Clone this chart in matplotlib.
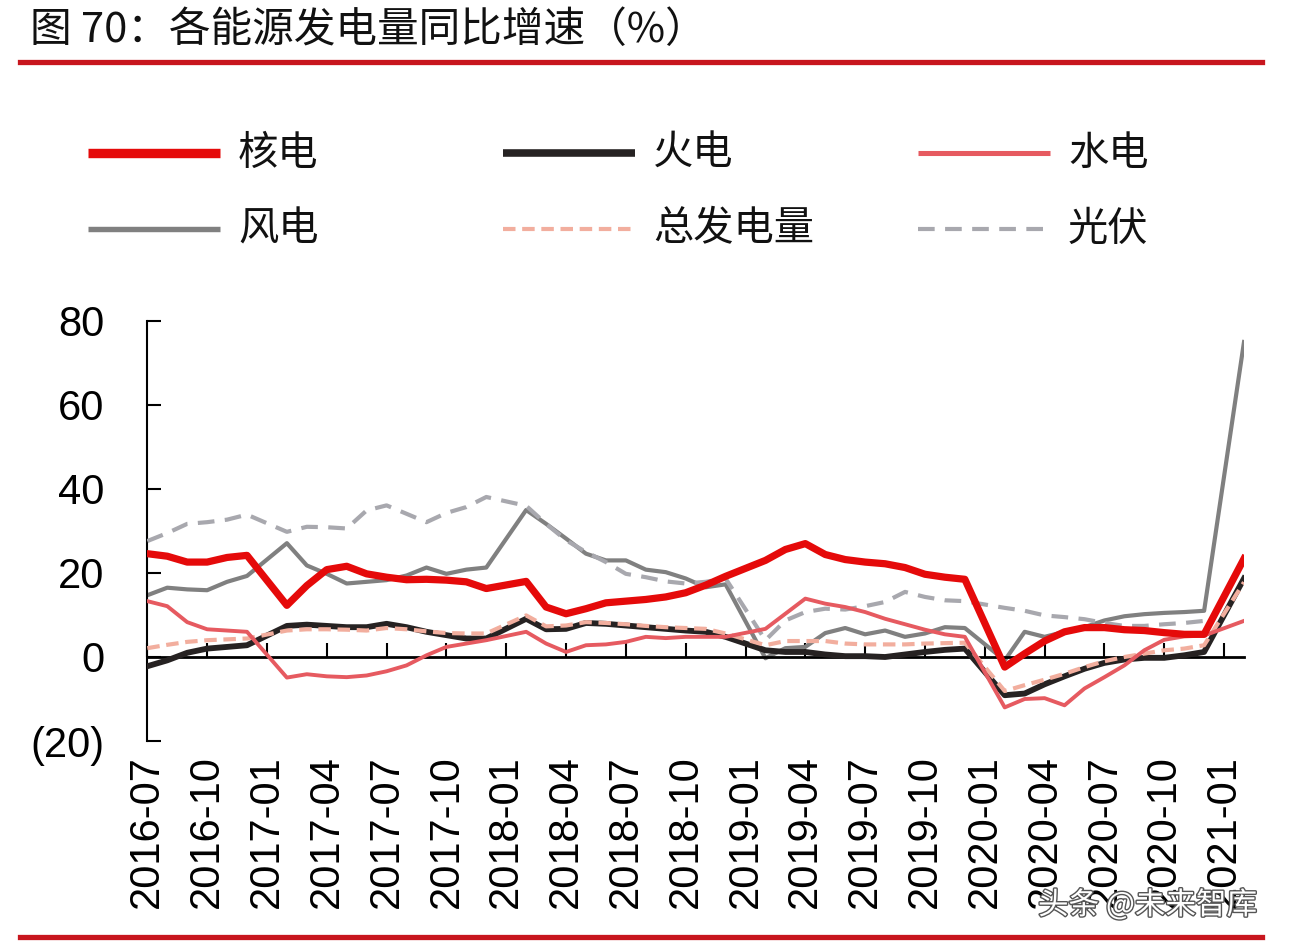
import matplotlib
matplotlib.use("Agg")
import matplotlib.pyplot as plt
import matplotlib.patheffects as pe
from matplotlib.lines import Line2D
import numpy as np

plt.rcParams['font.family'] = ['Liberation Sans', 'Noto Sans CJK SC', 'DejaVu Sans']
CJK = ['Noto Sans CJK SC', 'DejaVu Sans']

# months with data (January is reported together with February, so it is absent)
months = [
    "2016-07", "2016-08", "2016-09", "2016-10", "2016-11", "2016-12",
    "2017-02", "2017-03", "2017-04", "2017-05", "2017-06", "2017-07", "2017-08",
    "2017-09", "2017-10", "2017-11", "2017-12",
    "2018-02", "2018-03", "2018-04", "2018-05", "2018-06", "2018-07", "2018-08",
    "2018-09", "2018-10", "2018-11", "2018-12",
    "2019-02", "2019-03", "2019-04", "2019-05", "2019-06", "2019-07", "2019-08",
    "2019-09", "2019-10", "2019-11", "2019-12",
    "2020-02", "2020-03", "2020-04", "2020-05", "2020-06", "2020-07", "2020-08",
    "2020-09", "2020-10", "2020-11", "2020-12",
    "2021-02",
]

nuclear = [24.6, 24.0, 22.6, 22.6, 23.7, 24.2,
           12.3, 17.0, 20.8, 21.6, 19.8, 19.0, 18.4, 18.5, 18.3, 17.9, 16.3,
           18.0, 11.9, 10.3, 11.5, 12.9, 13.3, 13.7, 14.3, 15.3, 17.1, 19.2,
           23.0, 25.6, 27.0, 24.4, 23.2, 22.6, 22.2, 21.3, 19.7, 19.0, 18.5,
           -2.4, 0.8, 3.8, 6.0, 7.0, 7.0, 6.5, 6.3, 5.8, 5.4, 5.4,
           23.4]
thermal = [-2.2, -0.8, 1.0, 2.0, 2.4, 2.8,
           7.4, 7.7, 7.4, 7.1, 7.1, 7.9, 7.1, 6.0, 5.2, 4.4, 4.4,
           9.1, 6.6, 6.7, 8.1, 7.9, 7.5, 7.1, 6.7, 6.3, 6.0, 4.8,
           1.6, 1.2, 1.2, 0.6, 0.2, 0.2, 0.0, 0.6, 1.2, 1.7, 2.0,
           -9.1, -8.7, -6.5, -4.6, -2.8, -1.4, -0.6, -0.2, -0.2, 0.4, 1.2,
           18.7]
hydro = [13.3, 12.1, 8.3, 6.6, 6.3, 6.0,
         -4.9, -4.1, -4.6, -4.8, -4.4, -3.4, -2.0, 0.4, 2.4, 3.2, 4.0,
         6.0, 3.2, 1.2, 2.8, 3.0, 3.6, 4.8, 4.5, 4.8, 4.8, 4.8,
         6.7, 10.3, 13.9, 12.7, 11.9, 10.7, 9.1, 7.8, 6.5, 5.4, 4.8,
         -12.0, -10.0, -9.8, -11.5, -7.5, -4.8, -2.0, 1.6, 4.1, 4.9, 5.1,
         8.6]
wind = [14.7, 16.5, 16.1, 15.9, 17.9, 19.3,
        27.1, 21.8, 19.8, 17.5, 17.9, 18.3, 19.4, 21.3, 19.8, 20.8, 21.3,
        35.0, 31.7, 28.2, 24.6, 23.0, 23.0, 20.8, 20.2, 18.7, 16.6, 17.3,
        -0.3, 2.1, 2.4, 5.7, 6.9, 5.4, 6.3, 4.8, 5.6, 7.1, 6.9,
        -0.8, 6.0, 4.8, 6.0, 7.1, 8.7, 9.7, 10.2, 10.5, 10.7, 11.0,
        75.0]
total = [2.1, 2.9, 3.6, 4.0, 4.2, 4.4,
         6.3, 6.6, 6.6, 6.5, 6.3, 6.9, 6.6, 6.1, 5.7, 5.6, 5.6,
         9.9, 7.3, 7.5, 8.3, 8.1, 7.8, 7.4, 7.1, 6.9, 6.7, 5.6,
         2.8, 3.8, 3.8, 3.8, 3.2, 3.0, 3.0, 3.0, 3.2, 3.3, 3.4,
         -8.1, -6.7, -5.4, -4.0, -2.4, -1.0, 0.0, 0.8, 1.6, 2.0, 2.8,
         17.8]
solar = [27.6, 29.5, 31.7, 32.1, 32.7, 33.9,
         29.8, 31.0, 30.9, 30.6, 34.9, 36.1, 34.1, 32.1, 34.3, 35.7, 38.1,
         36.0, 31.7, 27.8, 25.0, 22.6, 19.8, 19.0, 18.0, 17.5, 17.9, 18.7,
         4.0, 8.7, 10.7, 11.5, 11.3, 12.1, 13.1, 15.5, 14.3, 13.5, 13.3,
         11.7, 11.0, 9.9, 9.5, 9.0, 8.1, 7.4, 7.4, 7.8, 8.1, 8.6,
         np.nan]

tick_labels = ["2016-07", "2016-10", "2017-01", "2017-04", "2017-07", "2017-10",
               "2018-01", "2018-04", "2018-07", "2018-10", "2019-01", "2019-04",
               "2019-07", "2019-10", "2020-01", "2020-04", "2020-07", "2020-10",
               "2021-01"]


def month_index(s):
    return (int(s[:4]) - 2016) * 12 + int(s[5:]) - 7


x = np.array([month_index(m) for m in months])
tick_pos = [month_index(t) for t in tick_labels]

series = [
    ("核电", nuclear, dict(color='#E50A0A', lw=5.2, zorder=6)),
    ("火电", thermal, dict(color='#262222', lw=4.2, zorder=3)),
    ("水电", hydro, dict(color='#E65A60', lw=2.8, zorder=5)),
    ("风电", wind, dict(color='#808080', lw=3.0, zorder=2)),
    ("总发电量", total, dict(color='#F2AE9E', lw=3.0, ls=(0, (3, 1.6)), zorder=4)),
    ("光伏", solar, dict(color='#A8A8AE', lw=3.0, ls=(0, (4, 2.5)), zorder=3)),
]

W, H = 1290, 948
fig = plt.figure(figsize=(W / 100, H / 100), dpi=100)

# title and red rules
fig.text(30 / W, 1 - 31 / H, "图 70：各能源发电量同比增速（%）", fontsize=30,
         family=CJK, ha='left', va='center', color='#111111')
fig.add_artist(Line2D([20 / W, 1262 / W], [1 - 62 / H, 1 - 62 / H],
                      transform=fig.transFigure, color='#C8161E', lw=3.8))
fig.add_artist(Line2D([20 / W, 1262 / W], [1 - 937 / H, 1 - 937 / H],
                      transform=fig.transFigure, color='#C8161E', lw=3.8))

# legend, 3 columns x 2 rows
col_x = [88, 503, 918]
row_y = [153, 229]
for k, (name, vals, st) in enumerate(series):
    x0 = col_x[k % 3]
    yy = 1 - row_y[k // 3] / H
    lw = st['lw'] * 1.3 if 'ls' not in st else st['lw']
    fig.add_artist(Line2D([x0 / W, (x0 + 132) / W], [yy, yy], transform=fig.transFigure,
                          color=st['color'], lw=lw, ls=st.get('ls', '-'),
                          solid_capstyle='butt'))
    fig.text((x0 + 150) / W, yy, name, fontsize=29, family=CJK,
             ha='left', va='center', color='#111111')

ax = fig.add_axes([147.3 / W, 1 - 741 / H, (1244 - 147.3) / W, (741 - 321) / H])
for name, vals, st in series:
    ax.plot(x, vals, solid_joinstyle='round', **st)

ax.set_xlim(0, 55)
ax.set_ylim(-20, 80)
ax.spines['top'].set_visible(False)
ax.spines['right'].set_visible(False)
ax.spines['bottom'].set_position(('data', 0))
ax.spines['bottom'].set_linewidth(2.0)
ax.spines['left'].set_linewidth(1.5)

yt = [-20, 0, 20, 40, 60, 80]
ax.set_yticks(yt, [f"({-v})" if v < 0 else str(v) for v in yt])
ax.tick_params(axis='y', direction='in', length=10, width=1.5, pad=31, labelsize=30)
ax.set_xticks(tick_pos)
ax.tick_params(axis='x', direction='in', length=10, width=1.5, labelbottom=False)

sec = ax.secondary_xaxis('bottom')
sec.spines['bottom'].set_visible(False)
sec.set_xticks(tick_pos, tick_labels)
sec.tick_params(axis='x', length=0, pad=10, labelsize=30, labelrotation=90)

# watermark
fig.text(1038 / W, 1 - 905 / H, "头条 @未来智库", fontsize=22, family=CJK,
         color='white', ha='left', va='center', zorder=20,
         path_effects=[pe.withStroke(linewidth=2, foreground='#555555')])

fig.savefig("out.png", dpi=100, facecolor='white')
